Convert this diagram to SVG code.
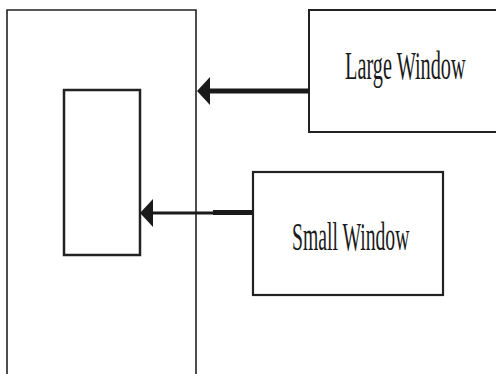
<svg xmlns="http://www.w3.org/2000/svg" width="496" height="374" viewBox="0 0 496 374">
<style>
.box{fill:none;stroke:#222;}
.lbl{font-family:"Liberation Serif","Times New Roman",serif;font-size:41px;fill:#1a1a1a;}
.conn{stroke:#1a1a1a;fill:none;}
.head{fill:#1a1a1a;stroke:none;}
</style>
<rect width="496" height="374" fill="#fff"/>
<g id="outer">
<path class="box" d="M7,376 V10 H196 V376" stroke-width="1.6"/>
</g>
<g id="inner">
<rect class="box" x="64" y="90" width="76" height="165" stroke-width="2.5"/>
</g>
<g id="large-window">
<path class="box" d="M500,10 H309 V132 H500" stroke-width="2"/>
<text class="lbl" transform="translate(345,79) scale(0.495,1)" x="0" y="0">Large Window</text>
</g>
<g id="small-window">
<rect class="box" x="253" y="172" width="190" height="123" stroke-width="2.2"/>
<text class="lbl" transform="translate(292,250) scale(0.48,1)" x="0" y="0">Small Window</text>
</g>
<g id="connectors">
<line class="conn" x1="309" y1="91" x2="208" y2="91" stroke-width="5"/>
<polygon class="head" points="197,91 210,77 210,105"/>
<line class="conn" x1="253" y1="212.5" x2="213" y2="212.5" stroke-width="5"/>
<line class="conn" x1="213" y1="213" x2="150" y2="213" stroke-width="3"/>
<polygon class="head" points="140,213 153,199 153,227"/>
</g>
</svg>
